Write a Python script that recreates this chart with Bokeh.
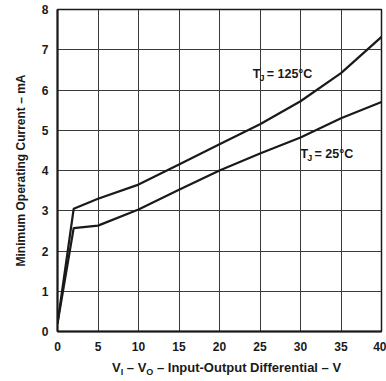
from bokeh.plotting import figure
from bokeh.models import Range1d, Label, FixedTicker, Div
from bokeh.layouts import column
from bokeh.embed import file_html
from bokeh.resources import INLINE

# Data
x_125 = [0, 2, 5, 10, 15, 20, 25, 30, 35, 40]
y_125 = [0.2, 3.05, 3.30, 3.65, 4.15, 4.65, 5.15, 5.72, 6.42, 7.32]
x_25 = [0, 2, 5, 10, 15, 20, 25, 30, 35, 40]
y_25 = [0.2, 2.57, 2.63, 3.03, 3.52, 4.00, 4.42, 4.82, 5.30, 5.70]
x_ticks = [0, 5, 10, 15, 20, 25, 30, 35, 40]
y_ticks = [0, 1, 2, 3, 4, 5, 6, 7, 8]

FONT = "Liberation Sans"
INK = "#1a1a1a"

p = figure(width=386, height=358, output_backend="svg", toolbar_location=None,
           x_range=Range1d(0, 40), y_range=Range1d(0, 8),
           min_border_left=57, min_border_right=5, min_border_top=9, min_border_bottom=27)
p.background_fill_color = "white"
p.border_fill_color = "white"
p.outline_line_color = INK
p.outline_line_width = 1.5

p.xaxis.ticker = FixedTicker(ticks=x_ticks)
p.yaxis.ticker = FixedTicker(ticks=y_ticks)
for ax in (p.xaxis, p.yaxis):
    ax.major_tick_out = 0
    ax.major_tick_in = 0
    ax.minor_tick_out = 0
    ax.minor_tick_in = 0
    ax.axis_line_color = INK
    ax.axis_line_width = 2
    ax.major_label_text_font = FONT
    ax.major_label_text_font_style = "bold"
    ax.major_label_text_font_size = "12px"
    ax.major_label_text_color = INK
p.xaxis.major_label_standoff = 10
p.yaxis.major_label_standoff = 9

p.yaxis.axis_label = "Minimum Operating Current – mA"
p.yaxis.axis_label_text_font = FONT
p.yaxis.axis_label_text_font_style = "bold"
p.yaxis.axis_label_text_font_size = "12px"
p.yaxis.axis_label_text_color = INK
p.yaxis.axis_label_standoff = 11

p.xgrid.grid_line_color = "#3a3a3a"
p.ygrid.grid_line_color = "#3a3a3a"
p.xgrid.grid_line_width = 1
p.ygrid.grid_line_width = 1

p.line(x_125, y_125, line_color=INK, line_width=2.2)
p.line(x_25, y_25, line_color=INK, line_width=2.2)

def add_text(x, y, txt, size, dx=0, dy=0):
    p.add_layout(Label(x=x, y=y, text=txt, x_offset=dx, y_offset=dy,
                       text_font=FONT, text_font_style="bold",
                       text_font_size=size, text_color=INK,
                       text_baseline="middle", text_align="left"))

# Curve annotations
add_text(24.1, 6.39, "T", "12.5px")
add_text(24.1, 6.39, "J", "9px", dx=6.8, dy=-3.5)
add_text(24.1, 6.39, " = 125°C", "12.5px", dx=14)
add_text(30.0, 4.40, "T", "12.5px")
add_text(30.0, 4.40, "J", "9px", dx=6.8, dy=-3.5)
add_text(30.0, 4.40, " = 25°C", "12.5px", dx=14)

# X axis title with subscripts (HTML text)
sub = 'style="font-size:9px;vertical-align:-3px"'
title_html = (f'<span style="font-family:\'Liberation Sans\';font-weight:bold;'
              f'font-size:13px;line-height:15px;color:{INK};white-space:nowrap">'
              f'V<span {sub}>I</span> – V<span {sub}>O</span> – '
              f'Input-Output Differential – V</span>')
xtitle = Div(text=title_html, width=386, height=23,
             styles={"padding-left": "112px", "padding-top": "2px",
                     "margin": "0px", "line-height": "15px"})

layout = column(p, xtitle, spacing=0)
open("out.html", "w").write(file_html(layout, INLINE))
